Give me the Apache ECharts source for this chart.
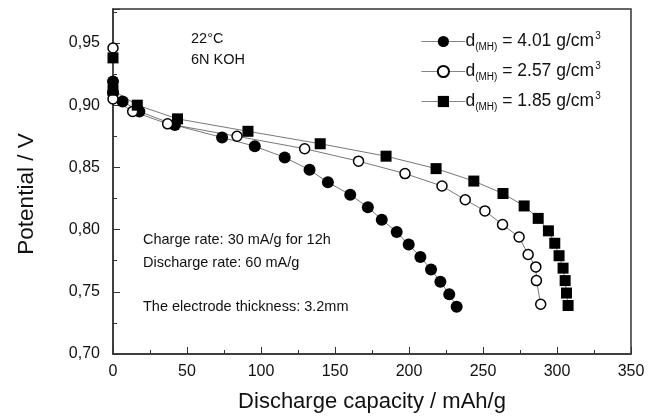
<!DOCTYPE html>
<html>
<head>
<meta charset="utf-8">
<script src="https://cdn.jsdelivr.net/npm/echarts@6/dist/echarts.min.js"></script>
<style>html,body{margin:0;padding:0;background:#fff}#c{width:658px;height:416px}</style>
</head>
<body>
<div id="c"></div>
<script>
// Discharge capacity (mAh/g) and potential (V) per electrode density
const seriesNames = ['4.01', '2.57', '1.85'];
const capA = [0, 0, 6.5, 17.8, 41.8, 73.7, 95.8, 116, 132.8, 145.2, 160.3, 172.2, 181.6, 191.7, 199.8, 207.7, 214.9, 221.2, 227.2, 232.2];
const potA = [0.919, 0.910, 0.903, 0.895, 0.884, 0.874, 0.867, 0.858, 0.848, 0.838, 0.828, 0.818, 0.808, 0.798, 0.788, 0.778, 0.768, 0.758, 0.748, 0.738];
const capB = [0, 0, 13.3, 36.9, 83.8, 129.5, 165.9, 197.3, 222.3, 238, 251.3, 263.2, 274.4, 280.5, 285.7, 286.1, 289];
const potB = [0.946, 0.905, 0.895, 0.885, 0.875, 0.865, 0.855, 0.845, 0.835, 0.824, 0.815, 0.804, 0.794, 0.780, 0.770, 0.759, 0.740];
const capC = [0, 0, 16.4, 43.6, 91.2, 140, 184.5, 218.3, 243.8, 263.5, 277.8, 287.3, 294.2, 298.5, 301.4, 304.1, 305.5, 306.4, 307.5];
const potC = [0.938, 0.912, 0.900, 0.889, 0.879, 0.869, 0.859, 0.849, 0.839, 0.829, 0.819, 0.809, 0.799, 0.789, 0.779, 0.769, 0.759, 0.749, 0.739];
const xTicks = [0, 50, 100, 150, 200, 250, 300, 350];
const yTicks = [0.70, 0.75, 0.80, 0.85, 0.90, 0.95];

function pairs(xs, ys) { return xs.map((x, i) => [x, ys[i]]); }

const FONT = '"Liberation Sans", Arial, Helvetica, sans-serif';
const chart = echarts.init(document.getElementById('c'), null, {renderer: 'canvas'});

function mkSeries(name, data, symbol, size, fill) {
  return {
    name: name, type: 'line', data: data, symbol: symbol, symbolSize: size,
    showAllSymbol: true, clip: true, animation: false,
    lineStyle: {color: '#555', width: 0.8},
    itemStyle: {color: fill, borderColor: '#000', borderWidth: fill === '#fff' ? 1.5 : 0, opacity: 1},
    emphasis: {disabled: true}
  };
}

chart.setOption({
  backgroundColor: '#fff',
  animation: false,
  textStyle: {fontFamily: FONT},
  grid: {left: 113, right: 27, top: 9, bottom: 62, containLabel: false, outerBoundsMode: 'none',
    show: true, borderColor: '#333', borderWidth: 1.5, backgroundColor: 'transparent'},
  legend: {
    orient: 'vertical', left: 416, top: 26, itemGap: 9,
    itemWidth: 44, itemHeight: 14, selectedMode: false,
    data: seriesNames,
    lineStyle: {color: '#666', width: 0.8},
    formatter: function (n) { return 'd{sub|(MH)} = ' + n + ' g/cm{sup|3}'; },
    textStyle: {
      fontFamily: FONT, fontSize: 17.5, color: '#111', padding: [0, 0, 0, -5],
      rich: {
        sub: {fontFamily: FONT, fontSize: 10, color: '#111', padding: [11, 0, 0, 0]},
        sup: {fontFamily: FONT, fontSize: 10, color: '#111', padding: [0, 0, 11, 1]}
      }
    }
  },
  xAxis: {
    type: 'value', min: 0, max: 350, interval: 50,
    name: 'Discharge capacity / mAh/g', nameLocation: 'middle', nameGap: 37,
    nameTextStyle: {fontFamily: FONT, fontSize: 22, color: '#111'},
    axisLine: {show: true, lineStyle: {color: '#333', width: 1.5}},
    axisTick: {show: true, inside: true, length: 7, lineStyle: {color: '#333', width: 1}},
    minorTick: {show: true, splitNumber: 2, length: 4, lineStyle: {color: '#333', width: 1}},
    splitLine: {show: false},
    axisLabel: {fontFamily: FONT, fontSize: 16, color: '#111', margin: 10,
      formatter: function (v) { return xTicks.indexOf(v) >= 0 ? String(v) : ''; }}
  },
  yAxis: {
    type: 'value', min: 0.70, max: 0.9773, interval: 0.05,
    axisLine: {show: true, lineStyle: {color: '#333', width: 1.5}},
    axisTick: {show: true, inside: true, length: 7, lineStyle: {color: '#333', width: 1}},
    minorTick: {show: true, splitNumber: 2, length: 4, lineStyle: {color: '#333', width: 1}},
    splitLine: {show: false},
    axisLabel: {fontFamily: FONT, fontSize: 16, color: '#111', margin: 13, showMaxLabel: false,
      formatter: function (v) {
        const r = Math.round(v * 100) / 100;
        return yTicks.some(t => Math.abs(t - r) < 1e-6) && Math.abs(v - r) < 1e-6 ? r.toFixed(2).replace('.', ',') : '';
      }}
  },
  graphic: [
    {type: 'text', x: 27, y: 194, rotation: Math.PI / 2,
      style: {text: 'Potential / V', font: '22.5px ' + FONT, fill: '#111', align: 'center', verticalAlign: 'middle'}},
    {type: 'text', left: 191, top: 31, style: {text: '22°C', font: '14.5px ' + FONT, fill: '#111'}},
    {type: 'text', left: 191, top: 52, style: {text: '6N KOH', font: '14.5px ' + FONT, fill: '#111'}},
    {type: 'text', left: 143, top: 232, style: {text: 'Charge rate: 30 mA/g for 12h', font: '14.5px ' + FONT, fill: '#111'}},
    {type: 'text', left: 143, top: 255, style: {text: 'Discharge rate: 60 mA/g', font: '14.5px ' + FONT, fill: '#111'}},
    {type: 'text', left: 143, top: 299, style: {text: 'The electrode thickness: 3.2mm', font: '14.5px ' + FONT, fill: '#111'}}
  ],
  series: [
    mkSeries(seriesNames[0], pairs(capA, potA), 'circle', 12, '#000'),
    mkSeries(seriesNames[1], pairs(capB, potB), 'circle', 10, '#fff'),
    mkSeries(seriesNames[2], pairs(capC, potC), 'rect', 11, '#000')
  ]
});
</script>
</body>
</html>
